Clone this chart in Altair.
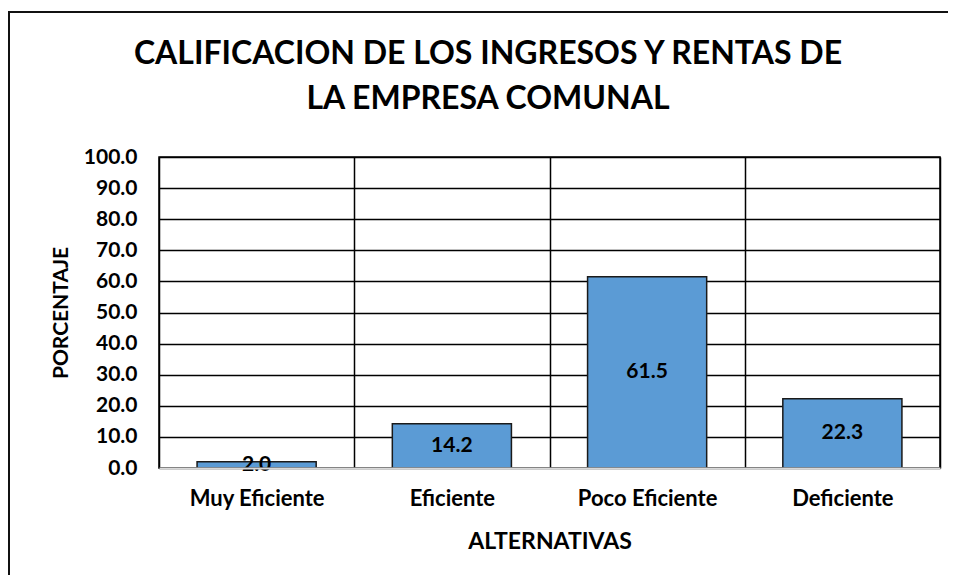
import altair as alt
import pandas as pd

categorias = ["Muy Eficiente", "Eficiente", "Poco Eficiente", "Deficiente"]
porcentajes = [2.0, 14.2, 61.5, 22.3]
y_ticks = [0, 10, 20, 30, 40, 50, 60, 70, 80, 90, 100]
titulo = ["CALIFICACION DE LOS INGRESOS Y RENTAS DE", "LA EMPRESA COMUNAL"]

df = pd.DataFrame({"categoria": categorias, "valor": porcentajes})

FONT = "Lato"

x_axis = alt.Axis(
    title="ALTERNATIVAS",
    labelAngle=0,
    tickBand="extent",
    grid=True,
    gridColor="black",
    gridWidth=1.5,
    ticks=False,
    tickSize=0,
    domainColor="#d9d9d9",
    domainWidth=2,
    labelBaseline="alphabetic",
    labelPadding=37,
    titleBaseline="alphabetic",
    titleY=80,
    zindex=1,
    labelFont=FONT,
    labelFontSize=22,
    labelFontWeight="bold",
    labelColor="black",
    titleFont=FONT,
    titleFontSize=23,
    titleFontWeight="bold",
    titleColor="black",
)

y_axis = alt.Axis(
    title="PORCENTAJE",
    values=y_ticks,
    format=".1f",
    grid=True,
    gridColor="black",
    gridWidth=1.5,
    domain=False,
    ticks=False,
    tickSize=0,
    labelPadding=22,
    labelBaseline="middle",
    labelOverlap=False,
    titleX=-98,
    titleY=155.5,
    titleBaseline="middle",
    titleAlign="center",
    titleAngle=-90,
    labelFont=FONT,
    labelFontSize=21,
    labelFontWeight="bold",
    labelColor="black",
    titleFont=FONT,
    titleFontSize=21,
    titleFontWeight="bold",
    titleColor="black",
)

x_scale = alt.Scale(paddingInner=0, paddingOuter=0)
y_scale = alt.Scale(domain=[0, 100], nice=False)

bars = alt.Chart(df).mark_bar(
    width=alt.RelativeBandSize(0.61),
    color="#5B9BD5",
    stroke="#1a1a1a",
    strokeWidth=1.5,
).encode(
    x=alt.X("categoria:N", sort=categorias, scale=x_scale, axis=x_axis),
    y=alt.Y("valor:Q", scale=y_scale, axis=y_axis),
)

labels = alt.Chart(df).transform_calculate(
    mitad="datum.valor / 2"
).mark_text(
    font=FONT, fontSize=21, fontWeight="bold", color="black", baseline="middle"
).encode(
    x=alt.X("categoria:N", sort=categorias, scale=x_scale, axis=x_axis),
    y=alt.Y("mitad:Q", scale=y_scale, axis=y_axis),
    text=alt.Text("valor:Q", format=".1f"),
)

frame_top = alt.Chart(alt.Data(values=[{}])).mark_rule(
    color="#111111", strokeWidth=2
).encode(x=alt.value(-151), x2=alt.value(900), y=alt.value(-145))

frame_left = alt.Chart(alt.Data(values=[{}])).mark_rule(
    color="#111111", strokeWidth=2
).encode(x=alt.value(-150), y=alt.value(-146), y2=alt.value(600))

chart = alt.layer(bars, labels, frame_top, frame_left).properties(
    width=781,
    height=311,
    background="white",
    autosize=alt.AutoSizeParams(type="none"),
    padding={"left": 151, "top": 149, "right": 8, "bottom": 107},
    title=alt.Title(
        text=titulo,
        font=FONT,
        fontSize=32,
        fontWeight="bold",
        color="black",
        anchor="middle",
        dx=-61.5,
        lineHeight=45,
        offset=-106,
    ),
).configure_view(
    stroke="black", strokeWidth=1.5
)

chart.save("out.html", embed_options={"renderer": "svg", "actions": False})
